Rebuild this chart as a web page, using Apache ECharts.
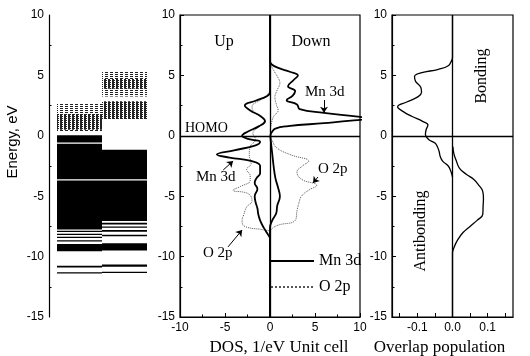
<!DOCTYPE html>
<html>
<head>
<meta charset="utf-8">
<script src="https://cdn.jsdelivr.net/npm/echarts@6/dist/echarts.min.js"></script>
<style>
  html, body { margin: 0; padding: 0; background: #fff; }
  #chart { width: 530px; height: 356px; }
</style>
</head>
<body>
<div id="chart"></div>
<script>
// 能级 (eV)，[下限, 上限]
var upOcc = [[-0.55, 0.05], [-3.6, -0.65], [-7.75, -3.7], [-7.95, -7.85], [-8.2, -8.1], [-8.45, -8.35],
  [-8.75, -8.65], [-9.55, -8.95], [-10.9, -10.75], [-11.4, -11.3]];
var upVirt = [[0.4, 2.65]];
var upVirtDense = [[0.5, 1.8]];
var downOcc = [[-3.6, -1.15], [-7.05, -3.7], [-7.35, -7.2], [-7.6, -7.5], [-7.95, -7.8], [-8.3, -8.2],
  [-9.5, -8.9], [-10.85, -10.65], [-11.35, -11.25]];
var downVirt = [[3.25, 5.3]];
var downVirtDense = [[1.4, 2.85], [3.9, 4.7]];

// 态密度 [能量, DOS]
var upMn3d = [[10, 0], [3.6, 0], [3.3, -0.3], [2.9, -1.6], [2.5, -2.8], [2.1, -2.2], [1.6, -1.0], [1.2, -0.55],
  [0.8, -1.2], [0.3, -2.6], [0.0, -3.1], [-0.3, -2.2], [-0.5, -1.1], [-0.8, -1.6], [-1.2, -4.0], [-1.55, -5.9],
  [-1.8, -4.5], [-2.1, -2.0], [-2.5, -1.1], [-3.1, -1.1], [-3.5, -1.5], [-3.9, -1.7], [-4.4, -1.4], [-5.0, -1.7],
  [-5.5, -1.6], [-6.0, -1.4], [-6.5, -1.3], [-7.0, -1.1], [-7.6, -0.7], [-8.2, -0.2], [-8.5, 0], [-15, 0]];
var upO2p = [[10, 0], [4.0, 0], [3.5, -0.2], [3.0, -1.0], [2.4, -2.0], [2.0, -1.8], [1.6, -1.0], [1.3, -0.6],
  [0.8, -1.2], [0.2, -1.9], [-0.3, -1.6], [-0.9, -2.2], [-1.6, -2.3], [-2.3, -2.1], [-2.8, -2.6], [-3.3, -2.2],
  [-3.7, -2.2], [-4.2, -3.3], [-4.5, -4.1], [-4.8, -2.4], [-5.4, -2.0], [-5.9, -2.6], [-6.5, -2.9], [-7.0, -3.1],
  [-7.5, -2.8], [-7.8, -0.6], [-8.0, 0], [-15, 0]];
var downMn3d = [[10, 0], [6.2, 0], [5.9, 0.2], [5.6, 1.0], [5.3, 2.2], [5.0, 3.1], [4.6, 2.6], [4.1, 2.0],
  [3.7, 2.8], [3.3, 2.5], [2.95, 1.85], [2.6, 3.0], [2.2, 3.3], [1.9, 6.0], [1.6, 9.5], [1.45, 11], [1.25, 9],
  [1.05, 6.0], [0.8, 2.0], [0.6, 0.6], [0.3, 0.2], [0, 0.05], [-0.5, 0.1], [-1.5, 0.25], [-2.5, 0.4],
  [-3.5, 0.6], [-4.3, 0.9], [-5.0, 1.1], [-5.8, 0.8], [-6.4, 0.7], [-7.0, 0.25], [-7.6, 0], [-15, 0]];
var downO2p = [[10, 0], [6.0, 0], [5.7, 0.2], [5.3, 0.5], [4.8, 0.9], [4.4, 1.1], [3.8, 0.8], [3.2, 0.55],
  [2.6, 0.7], [2.1, 0.9], [1.6, 0.4], [1.0, 0.15], [0.5, 0.05], [0, 0.05], [-0.4, 0.25], [-1.0, 0.75],
  [-1.6, 2.4], [-2.1, 4.3], [-2.5, 3.6], [-3.0, 3.0], [-3.6, 3.5], [-4.1, 5.2], [-4.5, 4.3], [-5.0, 3.5],
  [-5.6, 3.2], [-6.2, 3.0], [-7.0, 2.8], [-7.4, 0.9], [-7.7, 0.2], [-8.0, 0], [-15, 0]];

// 重叠布居 [能量, 值]
var coopAnti = [[10, 0], [6.5, 0], [6.2, -0.003], [5.8, -0.012], [5.5, -0.04], [5.2, -0.09], [4.9, -0.108],
  [4.5, -0.105], [4.0, -0.09], [3.6, -0.088], [3.2, -0.1], [2.8, -0.13], [2.4, -0.156], [2.0, -0.14],
  [1.6, -0.115], [1.2, -0.085], [0.9, -0.07], [0.5, -0.075], [0.1, -0.077], [-0.3, -0.068], [-0.6, -0.05],
  [-0.9, -0.043], [-1.3, -0.038], [-1.7, -0.035], [-2.1, -0.028], [-2.5, -0.012], [-3.0, -0.004], [-3.4, 0]];
var coopBond = [[-0.9, 0.001], [-1.5, 0.004], [-2.0, 0.01], [-2.7, 0.02], [-3.2, 0.04], [-3.6, 0.06],
  [-4.1, 0.075], [-4.6, 0.086], [-5.2, 0.088], [-5.8, 0.087], [-6.5, 0.086], [-7.0, 0.07], [-7.5, 0.05],
  [-8.0, 0.03], [-8.6, 0.015], [-9.2, 0.005], [-9.7, 0], [-15, 0]];

var SERIF = '"Liberation Serif", "DejaVu Serif", serif';
var SANS = '"Liberation Sans", Arial, sans-serif';
var SMOOTH = 0.45;

function makeHatch(w, h, rows) {
  var c = document.createElement('canvas');
  c.width = w; c.height = h;
  var ctx = c.getContext('2d');
  ctx.fillStyle = '#fff';
  ctx.fillRect(0, 0, w, h);
  ctx.fillStyle = '#222';
  rows.forEach(function (r) { ctx.fillRect(r[0], r[1], r[2], 1); });
  return { image: c, repeat: 'repeat' };
}
var fills = ['#000', makeHatch(5, 2, [[0, 0, 3]]), makeHatch(4, 2, [[0, 0, 3], [0, 1, 2]])];

function toLevels(col, list, kind) {
  return list.map(function (r) { return [col, r[0], r[1], kind]; });
}
var levelData = [].concat(
  toLevels(0, upVirt, 1), toLevels(0, upVirtDense, 2), toLevels(0, upOcc, 0),
  toLevels(1, downVirt, 1), toLevels(1, downVirtDense, 2), toLevels(1, downOcc, 0)
);

function flip(list) {
  return list.map(function (p) { return [p[1], p[0]]; });
}

function renderLevel(params, api) {
  var col = api.value(0);
  var top = api.coord([col, api.value(2)]);
  var bot = api.coord([col, api.value(1)]);
  var w = api.size([1, 0])[0];
  return {
    type: 'rect',
    shape: { x: top[0] - w / 2, y: top[1], width: w, height: Math.max(bot[1] - top[1], 1.3) },
    style: { fill: fills[api.value(3)] }
  };
}

var tickLabel = { color: '#000', fontSize: 12, fontFamily: SANS, margin: 5 };
var axisLine = { show: true, onZero: false, lineStyle: { color: '#000', width: 1.2 } };
var axisTick = { inside: true, length: 4, lineStyle: { color: '#000', width: 1 } };
var minorTick = { show: true, splitNumber: 2, length: 2.5, lineStyle: { color: '#000', width: 1 } };

function energyAxis(idx, offset) {
  return {
    gridIndex: idx, type: 'value', min: -15, max: 10, interval: 5, offset: offset || 0,
    axisLine: axisLine, axisTick: axisTick, minorTick: minorTick,
    axisLabel: tickLabel, splitLine: { show: false }
  };
}

var zeroLines = {
  silent: true, symbol: ['none', 'none'], label: { show: false },
  lineStyle: { color: '#000', width: 1.3, type: 'solid' },
  data: [{ xAxis: 0 }, { yAxis: 0 }]
};

var arrows = {
  silent: true, symbol: ['none', 'arrow'], symbolSize: 6, label: { show: false },
  lineStyle: { color: '#000', width: 1, type: 'solid' },
  data: [
    [{ coord: [6.0, 2.96] }, { coord: [6.0, 1.9] }],
    [{ coord: [-5.2, -2.83] }, { coord: [-4.1, -2.09] }],
    [{ coord: [5.33, -3.41] }, { coord: [4.78, -3.91] }],
    [{ coord: [-4.67, -9.2] }, { coord: [-3.1, -7.8] }]
  ]
};

var chart = echarts.init(document.getElementById('chart'));

var option = {
  animation: false,
  backgroundColor: '#fff',
  grid: [
    { left: 57, top: 15, width: 90, height: 302, show: false, outerBoundsMode: 'none' },
    { left: 180, top: 15, width: 180, height: 302, show: true, borderColor: '#000', borderWidth: 1.2, outerBoundsMode: 'none' },
    { left: 392, top: 15, width: 121, height: 302, show: true, borderColor: '#000', borderWidth: 1.2, outerBoundsMode: 'none' }
  ],
  xAxis: [
    { gridIndex: 0, type: 'category', data: ['up', 'down'], show: false },
    {
      gridIndex: 1, type: 'value', min: -10, max: 10, interval: 5,
      axisLine: axisLine, axisTick: axisTick, minorTick: minorTick,
      axisLabel: tickLabel, splitLine: { show: false },
      name: 'DOS, 1/eV Unit cell', nameLocation: 'middle', nameGap: 21,
      nameTextStyle: { color: '#000', fontSize: 17, fontFamily: SERIF, padding: [0, 0, 0, 18] }
    },
    {
      gridIndex: 2, type: 'value', min: -0.172, max: 0.172, splitNumber: 7,
      axisLine: axisLine, axisTick: axisTick,
      axisLabel: {
        color: '#000', fontSize: 12, fontFamily: SANS, margin: 5,
        showMinLabel: false, showMaxLabel: false,
        formatter: function (v) {
          var r = Math.round(v * 10) / 10;
          return (Math.abs(v - r) < 1e-6 && Math.abs(v) < 0.15) ? r.toFixed(1) : '';
        }
      },
      splitLine: { show: false },
      name: 'Overlap population', nameLocation: 'middle', nameGap: 21,
      nameTextStyle: { color: '#000', fontSize: 17, fontFamily: SERIF, padding: [0, 26, 0, 0] }
    }
  ],
  yAxis: [energyAxis(0, 8), energyAxis(1), energyAxis(2)],
  legend: {
    orient: 'vertical', left: 270, top: 253, padding: 0, itemWidth: 43, itemHeight: 12, itemGap: 10,
    itemStyle: { opacity: 0 },
    textStyle: { color: '#000', fontSize: 16, fontFamily: SERIF },
    data: ['Mn 3d', 'O 2p']
  },
  series: [
    {
      type: 'custom', name: 'levels', xAxisIndex: 0, yAxisIndex: 0,
      renderItem: renderLevel, data: levelData, silent: true
    },
    {
      type: 'line', name: 'O 2p', xAxisIndex: 1, yAxisIndex: 1, data: flip(upO2p),
      symbol: 'none', smooth: SMOOTH, lineStyle: { color: '#555', width: 1, type: 'dotted' }, itemStyle: { color: '#555' }
    },
    {
      type: 'line', name: 'O 2p', xAxisIndex: 1, yAxisIndex: 1, data: flip(downO2p),
      symbol: 'none', smooth: SMOOTH, lineStyle: { color: '#555', width: 1, type: 'dotted' }, itemStyle: { color: '#555' }
    },
    {
      type: 'line', name: 'Mn 3d', xAxisIndex: 1, yAxisIndex: 1, data: flip(upMn3d),
      symbol: 'none', smooth: SMOOTH, lineStyle: { color: '#000', width: 1.8 }, itemStyle: { color: '#000' },
      markLine: zeroLines
    },
    {
      type: 'line', name: 'Mn 3d', xAxisIndex: 1, yAxisIndex: 1, data: flip(downMn3d),
      symbol: 'none', smooth: SMOOTH, lineStyle: { color: '#000', width: 1.8 }, itemStyle: { color: '#000' },
      markLine: arrows
    },
    {
      type: 'line', name: 'antibonding', xAxisIndex: 2, yAxisIndex: 2, data: flip(coopAnti),
      symbol: 'none', smooth: SMOOTH, lineStyle: { color: '#000', width: 1.3 },
      markLine: zeroLines
    },
    {
      type: 'line', name: 'bonding', xAxisIndex: 2, yAxisIndex: 2, data: flip(coopBond),
      symbol: 'none', smooth: SMOOTH, lineStyle: { color: '#000', width: 1.3 }
    }
  ],
  graphic: [
    { type: 'text', x: 13, y: 142, rotation: Math.PI / 2,
      style: { text: 'Energy, eV', font: '15px ' + SANS, fill: '#000', align: 'center', verticalAlign: 'middle' } },
    { type: 'text', x: 224, y: 42,
      style: { text: 'Up', font: '16px ' + SERIF, fill: '#000', align: 'center', verticalAlign: 'middle' } },
    { type: 'text', x: 311, y: 42,
      style: { text: 'Down', font: '16px ' + SERIF, fill: '#000', align: 'center', verticalAlign: 'middle' } },
    { type: 'text', x: 185, y: 128,
      style: { text: 'HOMO', font: '14px ' + SERIF, fill: '#000', align: 'left', verticalAlign: 'middle' } },
    { type: 'text', x: 305, y: 92,
      style: { text: 'Mn 3d', font: '15px ' + SERIF, fill: '#000', align: 'left', verticalAlign: 'middle' } },
    { type: 'text', x: 196, y: 177,
      style: { text: 'Mn 3d', font: '15px ' + SERIF, fill: '#000', align: 'left', verticalAlign: 'middle' } },
    { type: 'text', x: 318, y: 169,
      style: { text: 'O 2p', font: '15px ' + SERIF, fill: '#000', align: 'left', verticalAlign: 'middle' } },
    { type: 'text', x: 203, y: 253,
      style: { text: 'O 2p', font: '15px ' + SERIF, fill: '#000', align: 'left', verticalAlign: 'middle' } },
    { type: 'text', x: 482, y: 76, rotation: Math.PI / 2,
      style: { text: 'Bonding', font: '16px ' + SERIF, fill: '#000', align: 'center', verticalAlign: 'middle' } },
    { type: 'text', x: 421, y: 231, rotation: Math.PI / 2,
      style: { text: 'Antibonding', font: '16px ' + SERIF, fill: '#000', align: 'center', verticalAlign: 'middle' } }
  ]
};

chart.setOption(option);
</script>
</body>
</html>
